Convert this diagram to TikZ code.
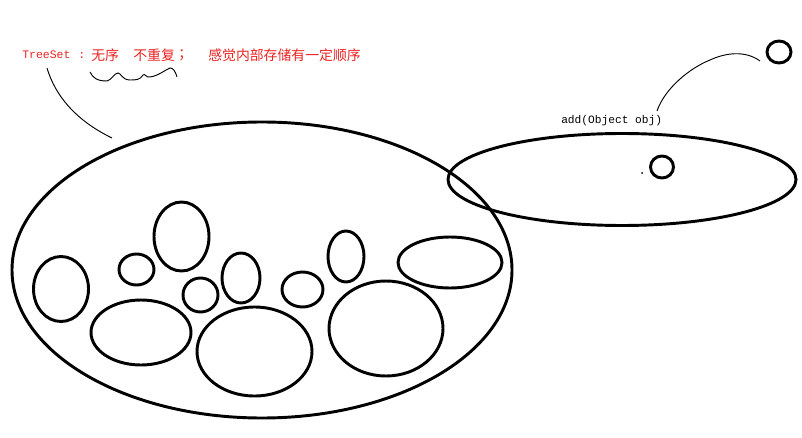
\documentclass[tikz,border=0pt]{standalone}
\usepackage{fontspec}
\newfontfamily\cjk{Noto Sans CJK SC}
\newfontfamily\monof{Liberation Mono}
\definecolor{txtred}{RGB}{235,35,35}
\begin{document}
\begin{tikzpicture}[x=0.75pt,y=-0.75pt,
  thick line/.style={line width=2.2pt},
  thin line/.style={line width=0.7pt},
  redtxt/.style={text=txtred,inner sep=0pt,anchor=west}]
\useasboundingbox (0,0) rectangle (802,438);
% big set
\draw[thick line] (262,270) ellipse (250 and 148);
% inner elements
\draw[thick line] (61,289) ellipse (27.5 and 32.5);
\draw[thick line] (136.5,269.5) ellipse (17.5 and 15.5);
\draw[thick line] (181.5,236.5) ellipse (27.5 and 34.5);
\draw[thick line] (141,332.5) ellipse (50 and 32.5);
\draw[thick line] (200.5,295) ellipse (17.5 and 17);
\draw[thick line] (241,278) ellipse (19 and 25);
\draw[thick line] (254.5,351.5) ellipse (57.5 and 44.5);
\draw[thick line] (302.5,289.5) ellipse (20.5 and 17.5);
\draw[thick line] (346,256.5) ellipse (18 and 25.5);
\draw[thick line] (386,328.5) ellipse (57 and 47.5);
\draw[thick line] (450,262.5) ellipse (52 and 25.5);
% add ellipse
\draw[thick line] (622,179.5) ellipse (174 and 46);
\draw[thick line] (662,167) ellipse (11.5 and 11);
\fill (642,173) circle (1);
\draw[thick line] (779,52) ellipse (12 and 11);
% labels
\node[redtxt] (ts) at (22,55) {\monof\fontsize{8.6pt}{10pt}\selectfont TreeSet};
\node[redtxt] (colon) at (78,55) {\monof\fontsize{8.6pt}{10pt}\selectfont :};
\node[redtxt] (wx) at (91,55) {\cjk\fontsize{10.4pt}{12pt}\selectfont 无序};
\node[redtxt] (bcf) at (133,55) {\cjk\fontsize{10.4pt}{12pt}\selectfont 不重复};
\node[redtxt] (semi) at (178,55) {\cjk\fontsize{10.4pt}{12pt}\selectfont ；};
\node[redtxt] (gj) at (208,55) {\cjk\fontsize{10.4pt}{12pt}\selectfont 感觉内部存储有一定顺序};
\node[inner sep=0pt,anchor=west] (add) at (561,121) {\monof\fontsize{8.4pt}{10pt}\selectfont add(Object obj)};
% hand-drawn strokes
\coordinate (ts1) at (47,68);
\coordinate (big1) at (112,138);
\draw[thin line] (ts1) .. controls (55,95) and (75,120) .. (big1);
\draw[thin line] (90,72) .. controls (93,78) and (97,81) .. (107,81)
  .. controls (112,80) and (114,73) .. (118,73)
  .. controls (121,73) and (122,80) .. (130,80)
  .. controls (136,80) and (140,80) .. (143,75)
  .. controls (145,73) and (146,78) .. (150,77)
  .. controls (158,76) and (165,70) .. (170,68)
  .. controls (173,67) and (176,73) .. (177,77);
\coordinate (a1) at (657,111);
\coordinate (a2) at (760,61);
\draw[thin line] (a1) .. controls (665,88) and (690,68) .. (710,60)
  .. controls (725,53) and (745,50) .. (a2);
\end{tikzpicture}
\end{document}
